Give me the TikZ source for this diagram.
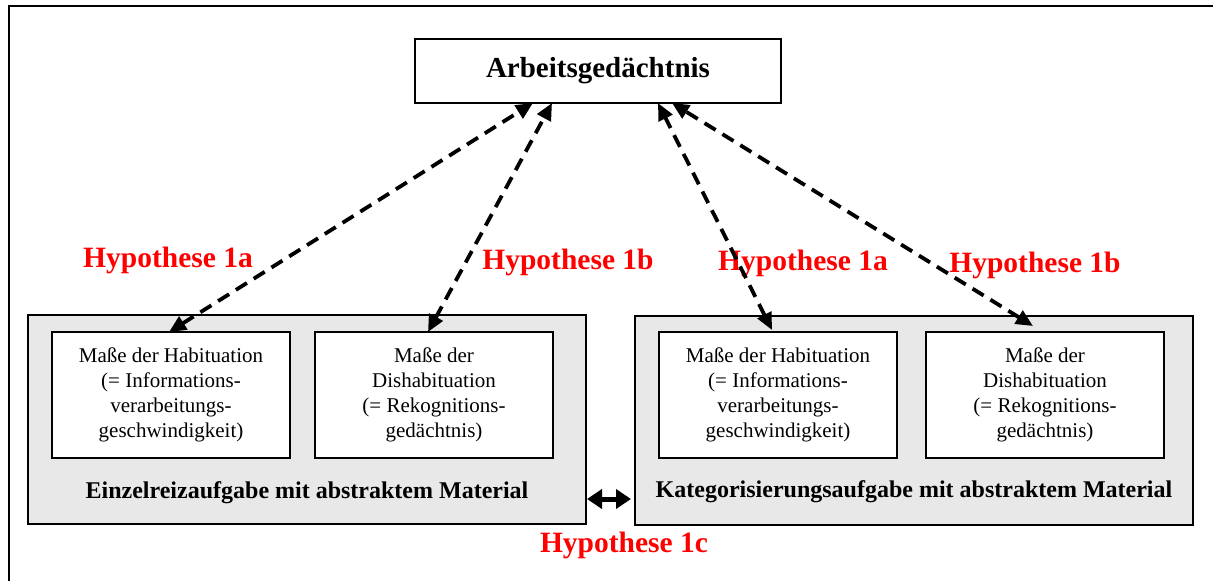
\documentclass[tikz,border=0pt]{standalone}
\usepackage{fontspec}
\setmainfont{Liberation Serif}
\usetikzlibrary{arrows.meta,calc}
\definecolor{panelgray}{RGB}{232,232,232}
\begin{document}
\begin{tikzpicture}[x=1pt,y=-1pt,
  frame/.style={draw=black,line width=2pt,inner sep=0pt,outer sep=0pt},
  membox/.style={frame,fill=white,minimum width=366pt,minimum height=64pt,
    font=\fontsize{29}{34}\selectfont\bfseries},
  taskbox/.style={frame,fill=panelgray,minimum width=558pt,minimum height=209pt},
  measbox/.style={frame,fill=white,minimum width=238pt,minimum height=126pt,
    align=center,font=\fontsize{21}{25}\selectfont},
  tasklabel/.style={font=\fontsize{24}{28}\selectfont\bfseries,inner sep=0pt},
  hyp/.style={text=red,font=\fontsize{29.5}{34}\selectfont\bfseries,inner sep=0pt},
  link/.style={line width=3.8pt,dash pattern=on 13pt off 8pt,
    {Triangle[length=17pt,width=15pt]}-{Triangle[length=17pt,width=15pt]}},
  compare/.style={line width=5pt,
    {Triangle[length=15pt,width=19pt]}-{Triangle[length=15pt,width=19pt]}}
]
\useasboundingbox (0,0) rectangle (1213,581);
\clip (0,0) rectangle (1213,581);
\fill[white] (0,0) rectangle (1213,581);

% outer frame, running off the right and bottom edges
\draw[line width=2.5pt] (9,6) rectangle (1240,610);

% working memory
\node[membox] (mem) at (598,71) {Arbeitsgedächtnis};

% the two tasks
\node[taskbox] (left) at (307,419.5) {};
\node[taskbox] (right) at (914,420.5) {};

\node[measbox] (h1) at (171,395) {Maße der Habituation\\(= Informations-\\verarbeitungs-\\geschwindigkeit)};
\node[measbox] (d1) at (434,395) {Maße der\\Dishabituation\\(= Rekognitions-\\gedächtnis)};
\node[measbox] (h2) at (778,395) {Maße der Habituation\\(= Informations-\\verarbeitungs-\\geschwindigkeit)};
\node[measbox] (d2) at (1045,395) {Maße der\\Dishabituation\\(= Rekognitions-\\gedächtnis)};

\node[tasklabel] (lt) at (307,493) {Einzelreizaufgabe mit abstraktem Material};
\node[tasklabel] (rt) at (914,492) {Kategorisierungsaufgabe mit abstraktem Material};

% hypotheses
\node[hyp] (ha1) at (168,260) {Hypothese 1a};
\node[hyp] (hb1) at (568,262) {Hypothese 1b};
\node[hyp] (ha2) at (803,263) {Hypothese 1a};
\node[hyp] (hb2) at (1035,265) {Hypothese 1b};
\node[hyp] (hc) at (624,545) {Hypothese 1c};

% links to working memory
\draw[link] ($(h1.north)+(-2,0)$) -- ($(mem.south)+(-65,0)$);
\draw[link] ($(d1.north)+(-6,0)$) -- ($(mem.south)+(-46,0)$);
\draw[link] ($(h2.north)+(-6,-2)$) -- ($(mem.south)+(60,0)$);
\draw[link] ($(d2.north)+(-12,-6)$) -- ($(mem.south)+(74,0)$);

% comparison of the tasks
\draw[compare] ($(left.south east)+(1,-25)$) -- ($(right.south west)+(-4,-26)$);
\end{tikzpicture}
\end{document}
